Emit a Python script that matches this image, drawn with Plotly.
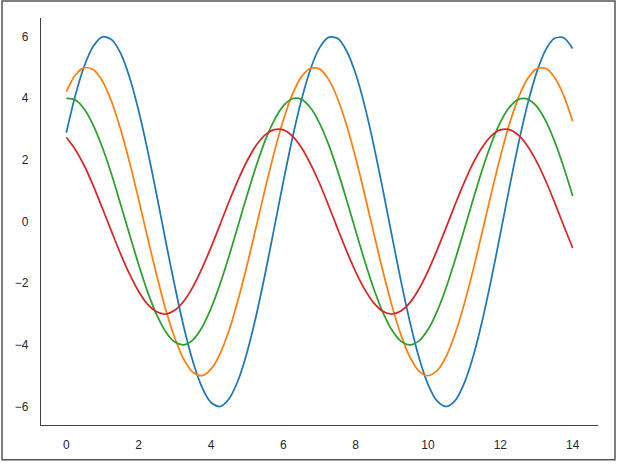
import plotly.graph_objects as go

x_vals = [i * 0.25 for i in range(57)]  # 0, 0.25, ..., 14

series_1 = [2.88, 4.09, 5.05, 5.69, 5.99, 5.90, 5.46, 4.67, 3.59, 2.29, 0.85, -0.65, -2.10, -3.43, -4.54,
            -5.37, -5.87, -6.00, -5.75, -5.15, -4.23, -3.05, -1.68, -0.20, 1.29, 2.70, 3.94, 4.94, 5.63,
            5.97, 5.94, 5.53, 4.79, 3.75, 2.47, 1.04, -0.45, -1.92, -3.26, -4.41, -5.28, -5.82, -6.00,
            -5.81, -5.25, -4.37, -3.22, -1.87, -0.40, 1.10, 2.52, 3.79, 4.82, 5.56, 5.94, 5.96, 5.61]
series_2 = [4.21, 4.75, 4.99, 4.92, 4.55, 3.89, 2.99, 1.91, 0.71, -0.54, -1.75, -2.86, -3.78, -4.48, -4.89,
            -5.00, -4.79, -4.29, -3.53, -2.54, -1.40, -0.17, 1.08, 2.25, 3.29, 4.12, 4.69, 4.97, 4.95,
            4.61, 3.99, 3.12, 2.06, 0.87, -0.38, -1.60, -2.72, -3.67, -4.40, -4.85, -5.00, -4.84, -4.38,
            -3.64, -2.68, -1.56, -0.33, 0.91, 2.10, 3.16, 4.02, 4.63, 4.95, 4.97, 4.67, 4.09, 3.25]
series_3 = [3.99, 3.94, 3.64, 3.11, 2.39, 1.53, 0.56, -0.43, -1.40, -2.29, -3.03, -3.58, -3.91, -4.00, -3.84,
            -3.44, -2.82, -2.03, -1.12, -0.13, 0.86, 1.80, 2.63, 3.29, 3.75, 3.98, 3.96, 3.69, 3.19,
            2.50, 1.65, 0.70, -0.30, -1.28, -2.18, -2.94, -3.52, -3.88, -4.00, -3.87, -3.50, -2.92, -2.15,
            -1.24, -0.27, 0.73, 1.68, 2.53, 3.22, 3.70, 3.96, 3.97, 3.74, 3.27, 2.60, 1.77, 0.83]
series_4 = [2.73, 2.33, 1.80, 1.15, 0.42, -0.32, -1.05, -1.71, -2.27, -2.69, -2.93, -3.00, -2.88, -2.58, -2.12,
            -1.52, -0.84, -0.10, 0.65, 1.35, 1.97, 2.47, 2.81, 2.98, 2.97, 2.77, 2.40, 1.87, 1.24,
            0.52, -0.23, -0.96, -1.63, -2.20, -2.64, -2.91, -3.00, -2.90, -2.63, -2.19, -1.61, -0.93, -0.20,
            0.55, 1.26, 1.90, 2.41, 2.78, 2.97, 2.98, 2.80, 2.45, 1.95, 1.33, 0.62, -0.13, -0.86]

colors = ["#1f77b4", "#ff7f0e", "#2ca02c", "#d62728"]
x_ticks = [0, 2, 4, 6, 8, 10, 12, 14]
y_ticks = [-6, -4, -2, 0, 2, 4, 6]
y_tick_text = ["\u22126", "\u22124", "\u22122", "0", "2", "4", "6"]

fig = go.Figure()
for ys, c in zip([series_1, series_2, series_3, series_4], colors):
    fig.add_trace(go.Scatter(x=x_vals, y=ys, mode="lines",
                             line=dict(color=c, width=1.75, shape="spline", smoothing=0.8),
                             showlegend=False, hoverinfo="skip"))

fig.update_layout(
    width=617, height=464,
    margin=dict(l=41, r=19, t=18, b=37),
    paper_bgcolor="white", plot_bgcolor="white",
    font=dict(family="Liberation Sans, Arial, sans-serif", size=12, color="#262626"),
    xaxis=dict(range=[-0.7, 14.7], tickvals=x_ticks, showgrid=False, zeroline=False,
               showline=True, linecolor="#404040", linewidth=1.25, ticks="", ticklabelstandoff=8),
    yaxis=dict(range=[-6.6, 6.6], tickvals=y_ticks, ticktext=y_tick_text, showgrid=False, zeroline=False,
               showline=True, linecolor="#404040", linewidth=1.25, ticks="", ticklabelstandoff=9),
)
fig.add_shape(type="rect", xref="paper", yref="paper",
              x0=-0.0700, x1=1.0305, y0=-0.0856, y1=1.0416,
              line=dict(color="#555555", width=1.5), fillcolor="rgba(0,0,0,0)", layer="below")
fig.write_html("out.html", config={"displayModeBar": False},
               post_script="document.body.style.margin='0';document.body.style.overflow='hidden';")
